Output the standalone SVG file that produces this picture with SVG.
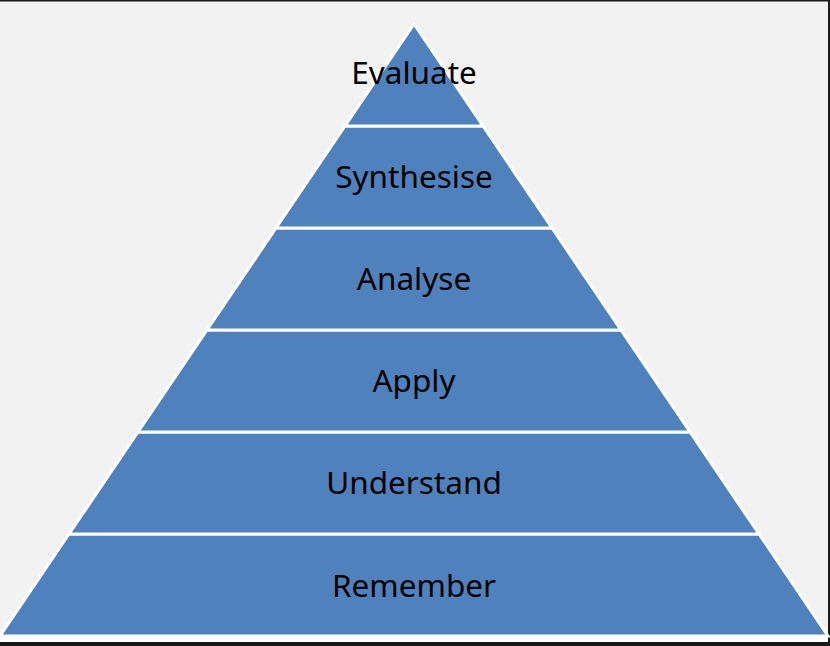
<svg xmlns="http://www.w3.org/2000/svg" width="830" height="646" viewBox="0 0 830 646">
<style>
.layer{fill:#4f81bd;stroke:#ffffff;stroke-width:3;stroke-linejoin:miter}
.lbl{font-family:"Noto Sans","Open Sans",sans-serif;font-size:31.5px;fill:#000000;text-anchor:middle}
</style>
<rect x="0" y="0" width="830" height="646" fill="#f2f2f2"/>
<rect x="0" y="636" width="830" height="6" fill="#ffffff"/>
<rect x="0" y="642" width="830" height="4" fill="#1a1a1a"/>
<rect x="0" y="0" width="830" height="1.5" fill="#1a1a1a"/>
<rect x="828" y="0" width="2" height="646" fill="#1a1a1a"/>
<g id="remember">
<polygon class="layer" points="69,534 759,534 828,636 0,636"/>
<text class="lbl" x="414" y="597">Remember</text>
</g>
<g id="understand">
<polygon class="layer" points="138,432 690,432 759,534 69,534"/>
<text class="lbl" x="414" y="494">Understand</text>
</g>
<g id="apply">
<polygon class="layer" points="207,330 621,330 690,432 138,432"/>
<text class="lbl" x="414" y="392">Apply</text>
</g>
<g id="analyse">
<polygon class="layer" points="276,228 552,228 621,330 207,330"/>
<text class="lbl" x="414" y="290">Analyse</text>
</g>
<g id="synthesise">
<polygon class="layer" points="345,126 483,126 552,228 276,228"/>
<text class="lbl" x="414" y="188">Synthesise</text>
</g>
<g id="evaluate">
<polygon class="layer" points="414,24 483,126 345,126"/>
<text class="lbl" x="414" y="84">Evaluate</text>
</g>
</svg>
